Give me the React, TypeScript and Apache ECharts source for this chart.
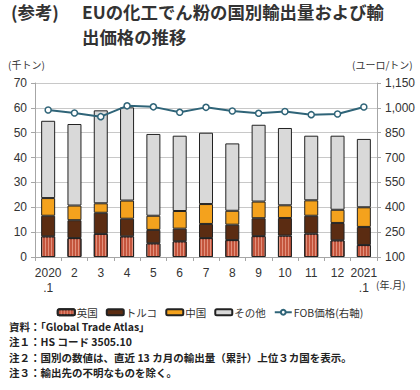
import React, { useEffect, useRef } from "react";
import * as echarts from "echarts";

const categories = ["2020\n.1", "2", "3", "4", "5", "6", "7", "8", "9", "10", "11", "12", "2021\n.1"];
const uk = [8.3, 7.6, 9.3, 8.3, 5.5, 6.3, 7.6, 6.8, 8.4, 8.6, 9.4, 6.7, 4.8];
const turkey = [8.3, 7.2, 8.5, 7.1, 5.4, 5.1, 5.7, 6.2, 7.2, 7.1, 7.2, 7.0, 7.3];
const china = [7.1, 5.9, 3.8, 7.3, 5.7, 7.1, 8.0, 5.6, 6.7, 5.1, 6.2, 5.3, 7.9];
const other = [31.1, 32.8, 37.4, 37.5, 32.9, 30.3, 28.7, 27.1, 30.9, 31.1, 26.0, 29.8, 27.5];
const fobPrice = [987, 969, 947, 1012, 1006, 973, 1003, 981, 967, 978, 959, 963, 1005];

const notes = [
  "資料：「Global Trade Atlas」",
  "注１：HS コード 3505.10",
  "注２：国別の数値は、直近 13 カ月の輸出量（累計）上位３カ国を表示。",
  "注３：輸出先の不明なものを除く。",
];

const FONT = "'Noto Sans CJK JP', 'Noto Sans', sans-serif";
const LABEL_FONT = "'Liberation Sans', Arial, sans-serif";

export default function App() {
  const ref = useRef<HTMLDivElement>(null);
  useEffect(() => {
    if (!ref.current) return;
    const chart = echarts.init(ref.current, null, { renderer: "svg" });
    const barBase = {
      type: "bar" as const,
      stack: "q",
      barWidth: 14,
      yAxisIndex: 0,
    };
    const border = { borderColor: "#222", borderWidth: 1 };
    chart.setOption({
      animation: false,
      textStyle: { fontFamily: FONT },
      grid: { left: 35, right: 43, top: 83, bottom: 133 },
      graphic: [
        { type: "text", left: 11, top: 3, style: { text: "(参考)", font: `bold 17.4px ${FONT}`, fill: "#333" } },
        { type: "text", left: 82, top: 3, style: { text: "EUの化工でん粉の国別輸出量および輸", font: `bold 17.4px ${FONT}`, fill: "#333" } },
        { type: "text", left: 82, top: 28, style: { text: "出価格の推移", font: `bold 17.4px ${FONT}`, fill: "#333" } },
        { type: "text", left: 8, top: 59, style: { text: "(千トン)", font: `10px ${FONT}`, fill: "#333" } },
        { type: "text", left: 352, top: 59, style: { text: "(ユーロ/トン)", font: `10px ${FONT}`, fill: "#333" } },
        { type: "text", left: 376, top: 279, style: { text: "(年.月)", font: `10px ${FONT}`, fill: "#333" } },
        ...notes.map((t, i) => ({
          type: "text",
          left: 9,
          top: 321 + i * 15.5,
          style: { text: t, font: `bold 10.5px ${FONT}`, fill: "#222" },
        })),
      ],
      legend: {
        left: "center",
        top: 302,
        itemWidth: 17,
        itemHeight: 6,
        itemGap: 8,
        textStyle: { fontSize: 10.5, color: "#333", fontFamily: FONT, padding: [0, 0, 0, -3] },
        data: ["英国", "トルコ", "中国", "その他", "FOB価格(右軸)"],
      },
      xAxis: {
        type: "category",
        data: categories,
        axisLine: { lineStyle: { color: "#a6a6a6" } },
        axisTick: { show: true, length: 4, lineStyle: { color: "#a6a6a6" } },
        axisLabel: { interval: 0, color: "#333", fontSize: 12, fontFamily: LABEL_FONT, lineHeight: 15, margin: 8 },
      },
      yAxis: [
        {
          type: "value",
          min: 0,
          max: 70,
          interval: 10,
          axisLine: { show: true, lineStyle: { color: "#a6a6a6" } },
          axisTick: { show: true, length: 4, lineStyle: { color: "#a6a6a6" } },
          axisLabel: { color: "#333", fontSize: 12, fontFamily: LABEL_FONT, margin: 8 },
          splitLine: { lineStyle: { color: "#c8c8c8" } },
        },
        {
          type: "value",
          min: 100,
          max: 1150,
          interval: 150,
          position: "right",
          axisLine: { show: true, lineStyle: { color: "#a6a6a6" } },
          axisTick: { show: true, length: 4, lineStyle: { color: "#a6a6a6" } },
          axisLabel: {
            color: "#333",
            fontSize: 12,
            fontFamily: LABEL_FONT,
            margin: 8,
            formatter: (v: number) => v.toLocaleString("en-US"),
          },
          splitLine: { show: false },
        },
      ],
      series: [
        {
          ...barBase,
          name: "英国",
          data: uk,
          itemStyle: {
            color: "#c4553d",
            ...border,
            decal: {
              symbol: "rect",
              color: "rgba(240,170,150,0.7)",
              dashArrayX: [1, 2],
              dashArrayY: [2, 0],
              rotation: 0,
              symbolSize: 1,
            },
          },
        },
        { ...barBase, name: "トルコ", data: turkey, itemStyle: { color: "#5b2c12", ...border } },
        { ...barBase, name: "中国", data: china, itemStyle: { color: "#f4a21d", ...border } },
        { ...barBase, name: "その他", data: other, itemStyle: { color: "#d9d9d9", ...border } },
        {
          name: "FOB価格(右軸)",
          type: "line",
          yAxisIndex: 1,
          data: fobPrice,
          symbol: "circle",
          symbolSize: 6,
          z: 5,
          lineStyle: { color: "#2f6478", width: 2 },
          itemStyle: { color: "#fff", borderColor: "#2f6478", borderWidth: 1.5 },
        },
      ],
    });
    return () => chart.dispose();
  }, []);
  return <div ref={ref} style={{ width: 420, height: 390, position: "absolute", left: 0, top: 0 }} />;
}
